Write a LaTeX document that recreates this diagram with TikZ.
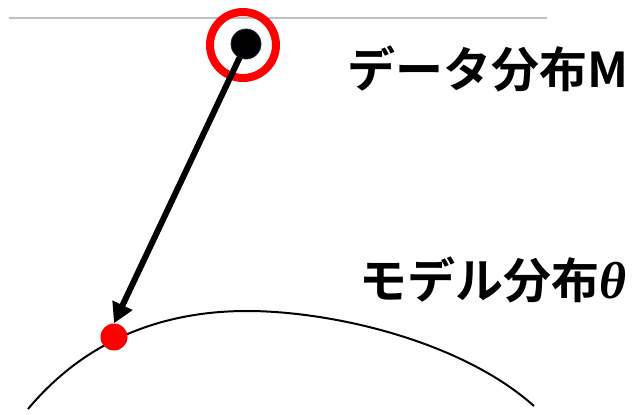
\documentclass[tikz,border=0pt]{standalone}
\usepackage{fontspec}
\usetikzlibrary{arrows.meta}
\newfontfamily\jpfont{Noto Sans CJK JP}[BoldFont={Noto Sans CJK JP Bold}]
\newfontfamily\thetafont{Liberation Serif}
\definecolor{ringred}{RGB}{255,0,0}
\definecolor{guide}{RGB}{192,192,192}
\tikzset{
  label text/.style={anchor=base west, inner sep=0pt, font=\jpfont\bfseries\fontsize{48}{56}\selectfont},
  datadot/.style={circle, fill=black, draw={rgb,255:red,30;green,40;blue,70}, line width=0.8pt, minimum size=30pt, inner sep=0pt},
  modeldot/.style={circle, fill=ringred, minimum size=27pt, inner sep=0pt},
  ringstyle/.style={circle, draw=ringred, line width=8pt, minimum size=66pt, inner sep=0pt},
  mainarrow/.style={line width=6pt, -{Triangle[length=20pt,width=21pt]}}
}
\begin{document}
\begin{tikzpicture}[x=1pt,y=-1pt]
\useasboundingbox (0,0) rectangle (633,415);
% guide line
\coordinate (gl) at (9,18);
\coordinate (gr) at (547,18);
\draw[guide, line width=1.3pt] (gl) -- (gr);
% model manifold curve
\coordinate (cl) at (28,409);
\coordinate (ct) at (247,311);
\coordinate (cr) at (534,406);
\draw[line width=2pt] (cl) .. controls (90,335) and (170,311) .. (ct)
  .. controls (330,311) and (460,340) .. (cr);
% ring
\node[ringstyle] (ring) at (243,45) {};
% dots
\node[modeldot] (m) at (114,337) {};
\coordinate (d0) at (246,44);
\draw[mainarrow] (d0) -- (m.north);
\node[datadot] (d) at (246,44) {};
% labels
\node[label text] (t1) at (347,87) {データ分布M};
\node[label text] (t2) at (359,298) {モデル分布{\thetafont\bfseries\itshape\fontsize{52}{56}\selectfont θ}};
\end{tikzpicture}
\end{document}
